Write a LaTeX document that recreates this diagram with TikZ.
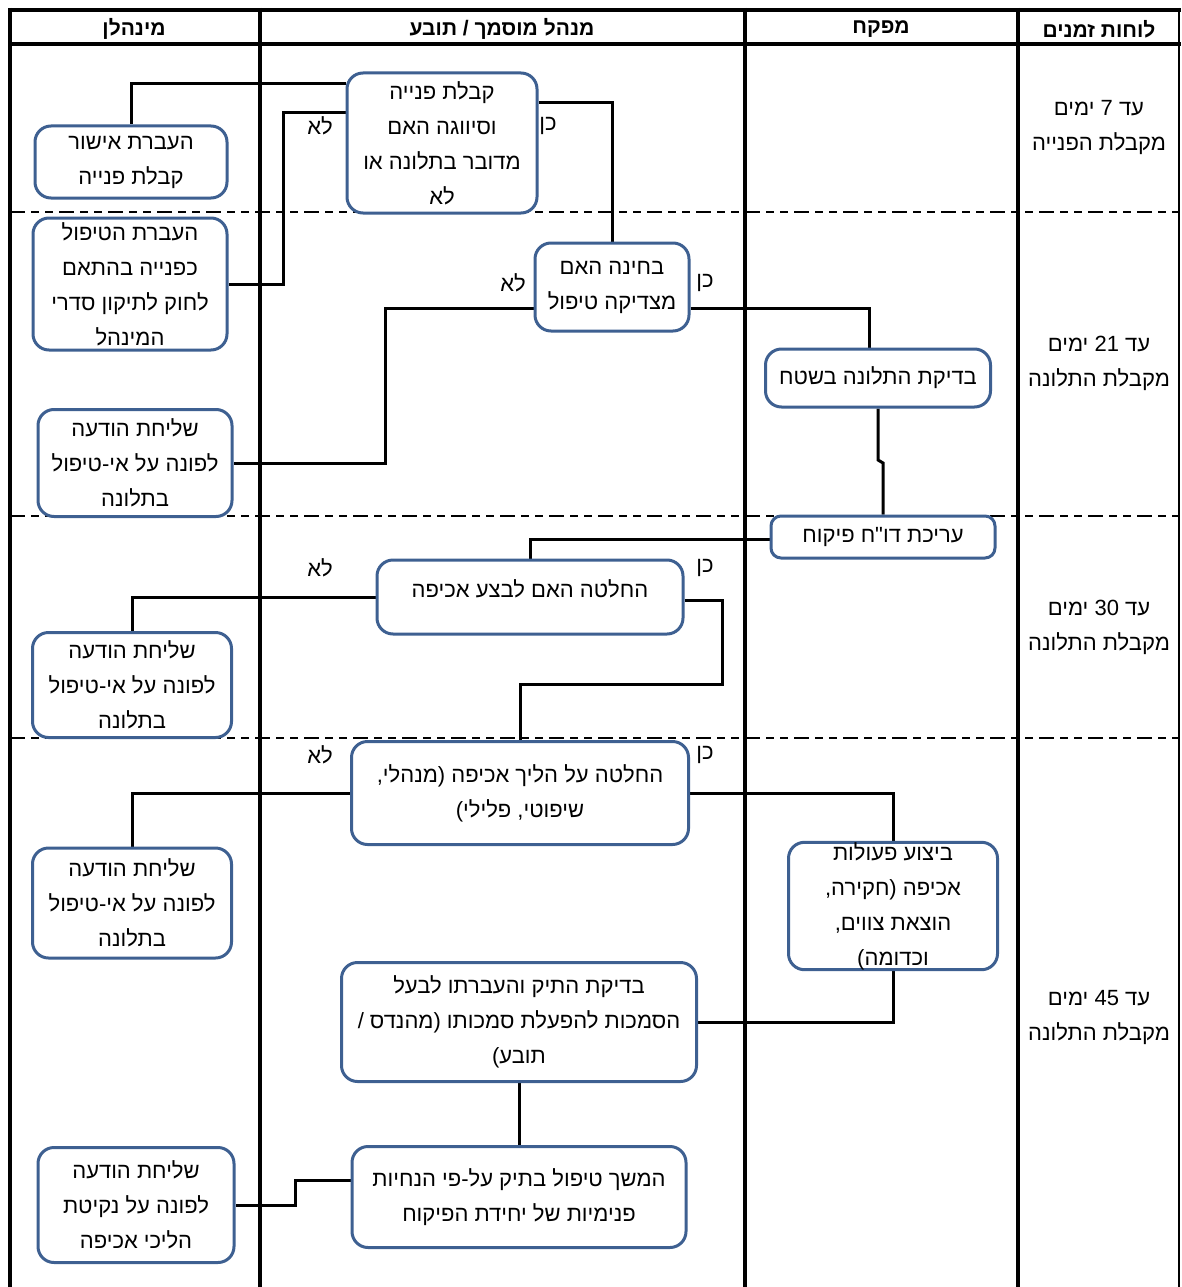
\documentclass[tikz,border=0pt]{standalone}
\usepackage{fontspec}
\usetikzlibrary{backgrounds}
\newfontfamily\hebfont[Script=Hebrew]{Liberation Sans}
\TeXXeTstate=1
\newcommand{\rl}[1]{\beginR #1\endR}
\definecolor{boxblue}{RGB}{62,96,145}
\tikzset{
  tibah/.style={draw=boxblue, line width=3pt, rounded corners=16pt, fill=white,
    align=center, inner sep=0pt, font=\hebfont\fontsize{22}{35}\selectfont},
  kav/.style={line width=3pt},
  tavit/.style={font=\hebfont\fontsize{22}{35}\selectfont, align=center, inner sep=0pt},
  koteret/.style={font=\hebfont\bfseries\fontsize{21}{25}\selectfont, inner sep=0pt},
  kavkav/.style={line width=2pt, dash pattern=on 15pt off 6pt on 8pt off 6pt on 8pt off 6pt},
}

\begin{document}
\begin{tikzpicture}[x=1pt, y=-1pt, line join=miter]
\useasboundingbox (0,0) rectangle (1182,1287);

% headers
\node[koteret] (hMinhalan) at (134,29) {\rl{מינהלן}};
\node[koteret] (hMusmakh) at (502,29) {\rl{מנהל מוסמך / תובע}};
\node[koteret] (hMefakeach) at (881,29) {\rl{מפקח}};
\node[koteret] (hZmanim) at (1099,29) {\rl{לוחות זמנים}};

% time frames
\node[tavit] (z7) at (1099,127) {\rl{עד 7 ימים}\\\rl{מקבלת הפנייה}};
\node[tavit] (z21) at (1099,363) {\rl{עד 21 ימים}\\\rl{מקבלת התלונה}};
\node[tavit] (z30) at (1099,627) {\rl{עד 30 ימים}\\\rl{מקבלת התלונה}};
\node[tavit] (z45) at (1099,1017) {\rl{עד 45 ימים}\\\rl{מקבלת התלונה}};

% boxes
\node[tibah, minimum width=190, minimum height=140] (qabala) at (442,143)
  {\rl{קבלת פנייה}\\\rl{וסיווגה האם}\\\rl{מדובר בתלונה או}\\\rl{לא}};
\node[tibah, minimum width=192, minimum height=72] (ishur) at (131,162)
  {\rl{העברת אישור}\\\rl{קבלת פנייה}};
\node[tibah, minimum width=194, minimum height=132] (haavara) at (130,284)
  {\rl{העברת הטיפול}\\\rl{כפנייה בהתאם}\\\rl{לחוק לתיקון סדרי}\\\rl{המינהל}};
\node[tibah, minimum width=154, minimum height=88] (bchina) at (612,287)
  {\rl{בחינה האם}\\\rl{מצדיקה טיפול}};
\node[tibah, minimum width=225, minimum height=58] (bdika) at (878,378)
  {\rl{בדיקת התלונה בשטח}};
\node[tibah, minimum width=194, minimum height=107] (sheliha1) at (135,463)
  {\rl{שליחת הודעה}\\\rl{לפונה על אי-טיפול}\\\rl{בתלונה}};
\node[tibah, minimum width=224, minimum height=42, rounded corners=10pt] (arikha) at (883,537)
  {\rl{עריכת דו"ח פיקוח}};
\node[tibah, minimum width=306, minimum height=74] (hahlata) at (530,597)
  {\rl{החלטה האם לבצע אכיפה}\\[-19pt]};
\node[tibah, minimum width=199, minimum height=105] (sheliha2) at (132,685)
  {\rl{שליחת הודעה}\\\rl{לפונה על אי-טיפול}\\\rl{בתלונה}};
\node[tibah, minimum width=337, minimum height=103] (halikh) at (520,793)
  {\rl{החלטה על הליך אכיפה (מנהלי,}\\\rl{שיפוטי, פלילי)}};
\node[tibah, minimum width=199, minimum height=110] (sheliha3) at (132,903)
  {\rl{שליחת הודעה}\\\rl{לפונה על אי-טיפול}\\\rl{בתלונה}};
\node[tibah, minimum width=209, minimum height=123] (bitzua) at (893,906)
  {\rl{ביצוע פעולות}\\\rl{אכיפה (חקירה,}\\\rl{הוצאת צווים,}\\\rl{וכדומה)}};
\node[tibah, minimum width=355, minimum height=119] (tik) at (519,1022)
  {\rl{בדיקת התיק והעברתו לבעל}\\\rl{הסמכות להפעלת סמכותו (מהנדס /}\\\rl{תובע)}};
\node[tibah, minimum width=334, minimum height=101] (hemshekh) at (519,1197)
  {\rl{המשך טיפול בתיק על-פי הנחיות}\\\rl{פנימיות של יחידת הפיקוח}};
\node[tibah, minimum width=196, minimum height=115] (sheliha4) at (136,1205)
  {\rl{שליחת הודעה}\\\rl{לפונה על נקיטת}\\\rl{הליכי אכיפה}};

% yes / no
\node[tavit] (lo1) at (320,126) {\rl{לא}};
\node[tavit] (ken1) at (548,126) {\rl{כן}};
\node[tavit] (lo2) at (513,283) {\rl{לא}};
\node[tavit] (ken2) at (705,283) {\rl{כן}};
\node[tavit] (lo3) at (320,568) {\rl{לא}};
\node[tavit] (ken3) at (705,568) {\rl{כן}};
\node[tavit] (lo4) at (320,755) {\rl{לא}};
\node[tavit] (ken4) at (705,755) {\rl{כן}};

\begin{scope}[on background layer]
% time rows
\foreach \yy in {212,516,738}
  \draw[kavkav] (10,\yy) -- (1180,\yy);
% lanes
\foreach \xx in {10,260,745,1018}
  \draw[line width=4.5pt] (\xx,8) -- (\xx,1287);
\draw[line width=2.5pt] (1179,8) -- (1179,1287);
\draw[line width=4pt] (8,10) -- (1181,10) (8,44) -- (1181,44);

% connectors
\draw[kav] (qabala.west |- 0,84) -| (ishur.north);
\draw[kav] (qabala.west |- 0,113) -- (283,113) |- (haavara.east);
\draw[kav] (qabala.east |- 0,103) -| (bchina.north);
\draw[kav] (bchina.west |- 0,308) -- (385,308) |- (sheliha1.east);
\draw[kav] (bchina.east |- 0,308) -| ([xshift=-9pt]bdika.north);
\draw[kav] (bdika.south) -- (bdika.south |- 0,460) -- (arikha.north |- 0,463) -- (arikha.north);
\draw[kav] (arikha.west |- 0,539) -| (hahlata.north);
\draw[kav] (hahlata.west) -| (sheliha2.north);
\draw[kav] (hahlata.east |- 0,600) -| (722,684) -| (halikh.north);
\draw[kav] (halikh.west) -| (sheliha3.north);
\draw[kav] (halikh.east) -| (bitzua.north);
\draw[kav] (bitzua.south) |- (tik.east);
\draw[kav] (tik.south) -- (hemshekh.north);
\draw[kav] (hemshekh.west |- 0,1180) -- (295,1180) |- (sheliha4.east);
\end{scope}
\end{tikzpicture}
\end{document}
